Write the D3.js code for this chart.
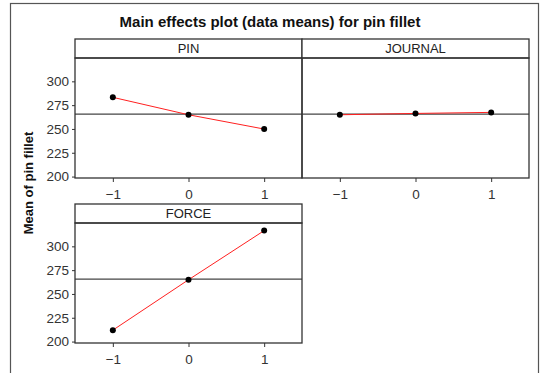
<!DOCTYPE html>
<html>
<head>
<meta charset="utf-8">
<script src="https://cdn.jsdelivr.net/npm/d3@7"></script>
<style>
  body { margin: 0; background: #fff; }
  text { font-family: "Liberation Sans", Arial, sans-serif; }
</style>
</head>
<body>
<div id="chart"></div>
<script>
// factor levels and the level means
var levels = [-1, 0, 1];
var factors = ["PIN", "JOURNAL", "FORCE"];
var pinMeans = [283.2, 264.9, 249.9];
var journalMeans = [264.9, 266.3, 267.4];
var forceMeans = [212, 264.9, 316.5];
var grandMean = 265.6;
var yTicks = [200, 225, 250, 275, 300];

var width = 541, height = 373;
var panelW = 227, stripH = 19;
// panel boxes: [left, top of strip, bottom of plot]
var panels = [
    {name: factors[0], means: pinMeans, x: 75, top: 39, bottom: 178},
    {name: factors[1], means: journalMeans, x: 302, top: 39, bottom: 178},
    {name: factors[2], means: forceMeans, x: 75, top: 204, bottom: 343}
];

var svg = d3.select("#chart").append("svg")
    .attr("width", width)
    .attr("height", height);

// outer frame
svg.append("rect")
    .attr("x", 10.5).attr("y", 3.5)
    .attr("width", 528).attr("height", 400)
    .attr("fill", "none")
    .attr("stroke", "#555")
    .attr("stroke-width", 1.2);

svg.append("text")
    .attr("x", 270).attr("y", 27)
    .attr("text-anchor", "middle")
    .style("font-size", "15px")
    .style("font-weight", "bold")
    .attr("fill", "#111")
    .text("Main effects plot (data means) for pin fillet");

svg.append("text")
    .attr("transform", "translate(33,183) rotate(-90)")
    .attr("text-anchor", "middle")
    .style("font-size", "13px")
    .style("font-weight", "bold")
    .attr("fill", "#111")
    .text("Mean of pin fillet");

var x = d3.scaleLinear().domain([-1.5, 1.5]).range([0, panelW]);

panels.forEach(function (p, i) {
    var plotTop = p.top + stripH;
    var y = d3.scaleLinear().domain([198.5, 324.5]).range([p.bottom - plotTop, 0]);
    var g = svg.append("g")
        .attr("transform", "translate(" + p.x + "," + plotTop + ")");

    // strip
    g.append("rect")
        .attr("x", 0).attr("y", -stripH)
        .attr("width", panelW).attr("height", stripH)
        .attr("fill", "#fff")
        .attr("stroke", "#333")
        .attr("stroke-width", 1.3);
    g.append("text")
        .attr("x", panelW / 2).attr("y", -5)
        .attr("text-anchor", "middle")
        .style("font-size", "13px")
        .attr("fill", "#222")
        .text(p.name);

    // reference line at the grand mean
    g.append("line")
        .attr("x1", 0).attr("x2", panelW)
        .attr("y1", y(grandMean)).attr("y2", y(grandMean))
        .attr("stroke", "#444")
        .attr("stroke-width", 1.2);

    var pts = levels.map(function (l, j) { return [l, p.means[j]]; });
    g.append("path")
        .datum(pts)
        .attr("fill", "none")
        .attr("stroke", "#ff2020")
        .attr("stroke-width", 1)
        .attr("d", d3.line()
            .x(function (d) { return x(d[0]); })
            .y(function (d) { return y(d[1]); }));
    g.selectAll("circle")
        .data(pts)
        .enter().append("circle")
        .attr("cx", function (d) { return x(d[0]); })
        .attr("cy", function (d) { return y(d[1]); })
        .attr("r", 3)
        .attr("fill", "#000");

    // panel box
    g.append("rect")
        .attr("width", panelW).attr("height", p.bottom - plotTop)
        .attr("fill", "none")
        .attr("stroke", "#333")
        .attr("stroke-width", 1.3);

    var xAxis = g.append("g")
        .attr("transform", "translate(0," + (p.bottom - plotTop) + ")")
        .call(d3.axisBottom(x).tickValues(levels).tickSize(4).tickPadding(7)
            .tickFormat(function (d) { return d < 0 ? "\u2212" + (-d) : d; }));
    xAxis.select(".domain").remove();

    if (p.x === 75) {
        var yAxis = g.append("g")
            .call(d3.axisLeft(y).tickValues(yTicks).tickSize(3).tickPadding(3));
        yAxis.select(".domain").remove();
    }
    svg.selectAll(".tick text")
        .style("font-size", "13.5px")
        .style("font-family", "'Liberation Sans', Arial, sans-serif")
        .attr("fill", "#333");
    svg.selectAll(".tick line").attr("stroke", "#333");
});
</script>
</body>
</html>
